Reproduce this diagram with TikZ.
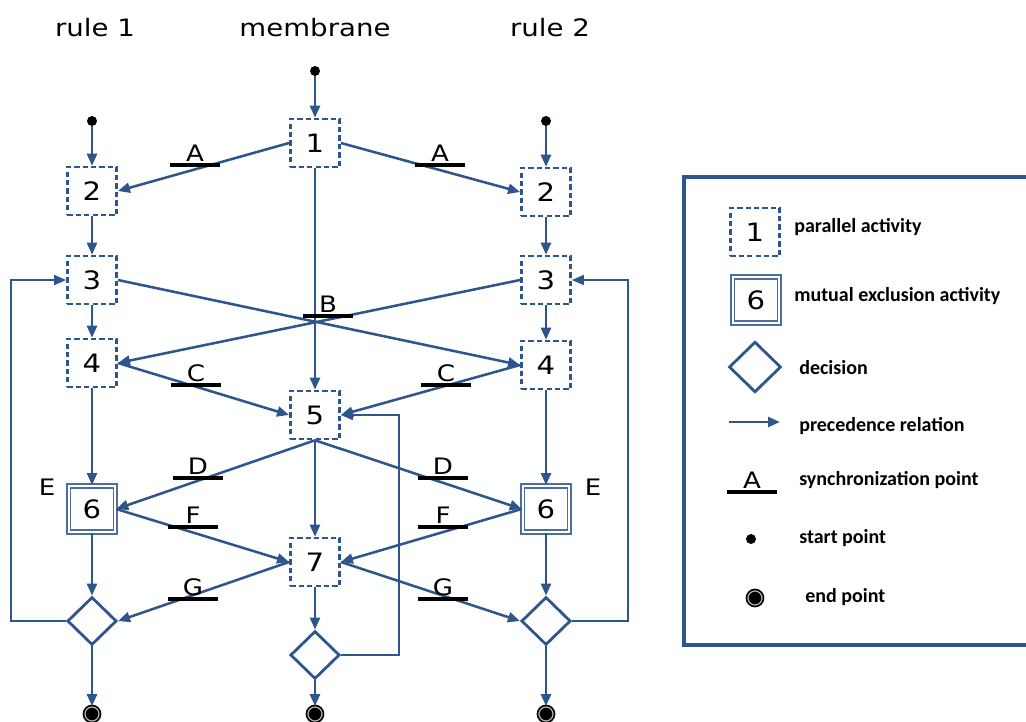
\documentclass[tikz,border=0pt]{standalone}
\usepackage{fontspec}
\setmainfont{DejaVu Sans}
\newfontfamily\diagfont[FakeStretch=1.15]{DejaVu Sans}
\newfontfamily\legfont{Carlito}
\usetikzlibrary{positioning, arrows.meta, shapes.geometric}
\definecolor{flowblue}{RGB}{46,86,140}

\begin{document}
\begin{tikzpicture}[
  x=0.75pt, y=-0.75pt,
  font=\diagfont,
  head/.style={font=\diagfont\fontsize{18}{20}\selectfont},
  paract/.style={draw=flowblue, line width=1.9pt, dash pattern=on 4pt off 2.3pt,
    minimum width=37pt, minimum height=36pt, inner sep=0pt, fill=white,
    font=\diagfont\fontsize{19}{22}\selectfont},
  mutex/.style={draw=flowblue!85, double=white, double distance=1.4pt,
    line width=1.4pt, minimum width=35pt, minimum height=34.5pt, inner sep=0pt,
    font=\diagfont\fontsize{19}{22}\selectfont},
  decide/.style={diamond, aspect=1, draw=flowblue, line width=2.1pt,
    minimum width=37pt, minimum height=36pt, inner sep=0pt, fill=white},
  startpt/.style={circle, fill=black, minimum size=7.5pt, inner sep=0pt},
  endpt/.style={circle, fill=black, draw=black, double=white!70!black, double distance=0.9pt,
    line width=1.3pt, minimum size=10.5pt, inner sep=0pt},
  sync/.style={anchor=south, minimum width=37.5pt, inner xsep=0pt, inner ysep=2.2pt,
    text depth=0pt, font=\diagfont\fontsize{17}{20}\selectfont,
    append after command={(\tikzlastnode.south west) edge[line width=2.6pt, black]
      (\tikzlastnode.south east)}},
  letter/.style={font=\diagfont\fontsize{17}{20}\selectfont},
  leg/.style={anchor=west, inner sep=0pt, font=\legfont\bfseries\fontsize{15}{17}\selectfont},
  arrow/.style={-{Triangle[length=9pt,width=7.5pt]}, line width=1.9pt, draw=flowblue},
  loopback/.style={arrow, line width=1.4pt},
]
  \useasboundingbox (0,0) rectangle (1026,722);

  % column titles
  \node[head] (hR1) at (95,28) {rule 1};
  \node[head] (hMem) at (315,28) {membrane};
  \node[head] (hR2) at (550,28) {rule 2};

  % start points
  \node[startpt] (sM) at (315,71) {};
  \node[startpt] (sL) at (92,121) {};
  \node[startpt] (sR) at (546,121) {};

  % activities
  \node[paract] (m1) at (315,143) {1};
  \node[paract] (l2) at (92,191) {2};
  \node[paract] (r2) at (546,192) {2};
  \node[paract] (l3) at (92,280) {3};
  \node[paract] (r3) at (546,280) {3};
  \node[paract] (l4) at (92,363) {4};
  \node[paract] (r4) at (546,365) {4};
  \node[paract] (m5) at (315,415) {5};
  \node[mutex] (l6) at (92,509) {6};
  \node[mutex] (r6) at (546,509) {6};
  \node[paract] (m7) at (315,562) {7};
  \node[letter] (eL) at (47,487) {E};
  \node[letter] (eR) at (593,487) {E};

  % decisions and end points
  \node[decide] (lD) at (92,621) {};
  \node[decide] (mD) at (315,655) {};
  \node[decide] (rD) at (546,621) {};
  \node[endpt] (lEnd) at (92,714) {};
  \node[endpt] (mEnd) at (315,714) {};
  \node[endpt] (rEnd) at (546,714) {};

  % precedence relations
  \foreach \a/\b in {sM/m1, sL/l2, sR/r2, l2/l3, r2/r3, l3/l4, r3/r4, l4/l6, r4/r6,
                     l6/lD, r6/rD, m1/m5, m5/m7, m7/mD, lD/lEnd, mD/mEnd, rD/rEnd}{
    \draw[arrow] (\a.south) -- (\b.north);
  }
  \foreach \a/\b in {m1.west/l2.east, m1.east/r2.west, l3.east/r4.west, r3.west/l4.east,
                     l4.east/m5.west, r4.west/m5.east, m5.south/l6.east, m5.south/r6.west,
                     l6.east/m7.west, r6.west/m7.east, m7.west/lD.east, m7.east/rD.west}{
    \draw[arrow] (\a) -- (\b);
  }

  % loops back
  \draw[loopback] (lD.west) -- ++(-55,0) |- (l3.west);
  \draw[loopback] (rD.east) -- ++(56,0) |- (r3.east);
  \draw[loopback] (mD.east) -- ++(58,0) |- (m5.east);

  % synchronization points
  \node[sync] (syA1) at (195,165) {A};
  \node[sync] (syA2) at (440,165) {A};
  \node[sync] (syB) at (328,316) {B};
  \node[sync] (syC1) at (196,385) {C};
  \node[sync] (syC2) at (446,385) {C};
  \node[sync] (syD1) at (198,478) {D};
  \node[sync] (syD2) at (443,478) {D};
  \node[sync] (syF1) at (193,527) {F};
  \node[sync] (syF2) at (443,527) {F};
  \node[sync] (syG1) at (193,599) {G};
  \node[sync] (syG2) at (443,599) {G};

  % legend
  \draw[draw=flowblue, line width=2.6pt] (684,177) rectangle (1045,645);
  \node[paract] (kPar) at (755,232) {1};
  \node[leg] (kParT) at (794,227) {parallel activity};
  \node[mutex] (kMut) at (756,300) {6};
  \node[leg] (kMutT) at (794,296) {mutual exclusion activity};
  \node[decide, minimum width=39pt, minimum height=38pt] (kDec) at (755,367) {};
  \node[leg] (kDecT) at (799,368) {decision};
  \coordinate (kArrA) at (729,422);
  \coordinate (kArrB) at (780,422);
  \draw[arrow] (kArrA) -- (kArrB);
  \node[leg] (kArrT) at (799,426) {precedence relation};
  \node[sync] (kSync) at (752,492) {A};
  \node[leg] (kSyncT) at (799,480) {synchronization point};
  \node[startpt] (kStart) at (751,539) {};
  \node[leg] (kStartT) at (799,538) {start point};
  \node[endpt] (kEnd) at (755,598) {};
  \node[leg] (kEndT) at (805,597) {end point};
\end{tikzpicture}
\end{document}
